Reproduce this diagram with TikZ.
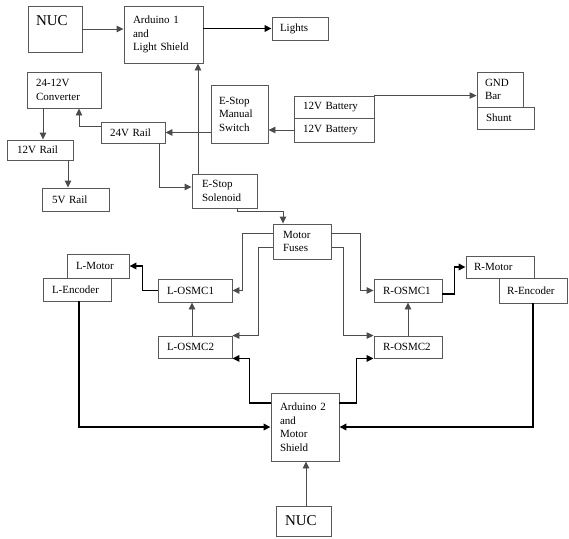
\documentclass[tikz,border=0pt]{standalone}
\usepackage{fontspec}
\setmainfont{Liberation Serif}
\usetikzlibrary{arrows.meta,calc}
\begin{document}
\begin{tikzpicture}[x=1pt,y=-1pt,
  bx/.style={draw=black!65, line width=0.9pt, rectangle, inner ysep=0pt, align=left,
    font=\fontsize{11}{13.5}\selectfont},
  big/.style={font=\fontsize{15}{17}\selectfont},
  thin/.style={draw=black!70, line width=0.9pt, -{Triangle[length=7pt,width=6.5pt]}},
  thick/.style={draw=black, line width=1.7pt, -{Triangle[length=7pt,width=6.5pt]}}
]
\useasboundingbox (0,0) rectangle (569,538);

% boxes
\node[bx,big,minimum width=54pt,minimum height=46pt,inner xsep=8pt,text width=38pt,text depth=16pt] (nuc1) at (55,29) {NUC};
\node[bx,minimum width=79pt,minimum height=57pt,inner xsep=9pt,text width=61pt] (ard1) at (163.5,34.5) {Arduino 1\\and\\Light Shield};
\node[bx,minimum width=56pt,minimum height=23pt,inner xsep=8pt,text width=40pt] (lights) at (300,28.5) {Lights};
\node[bx,minimum width=74pt,minimum height=36pt,inner xsep=9pt,text width=56pt] (conv) at (64,90) {24-12V\\Converter};
\node[bx,minimum width=64pt,minimum height=21pt,inner xsep=9pt,text width=46pt] (r24) at (133,132.5) {24V Rail};
\node[bx,minimum width=66pt,minimum height=20pt,inner xsep=10pt,text width=46pt] (r12) at (40,150) {12V Rail};
\node[bx,minimum width=67pt,minimum height=23pt,inner xsep=10pt,text width=47pt] (r5) at (75.5,199.5) {5V Rail};
\node[bx,minimum width=57pt,minimum height=58pt,inner xsep=8pt,text width=41pt] (sw) at (239.5,114) {E-Stop\\Manual\\Switch};
\node[bx,minimum width=80pt,minimum height=22pt,inner xsep=9pt,text width=62pt] (bat1) at (334,107) {12V Battery};
\node[bx,minimum width=80pt,minimum height=24pt,inner xsep=9pt,text width=62pt] (bat2) at (334,130) {12V Battery};
\node[bx,minimum width=46pt,minimum height=35pt,inner xsep=8pt,text width=30pt] (gnd) at (500,89.5) {GND\\Bar};
\node[bx,minimum width=57pt,minimum height=22pt,inner xsep=9pt,text width=39pt] (shunt) at (505.5,118) {Shunt};
\node[bx,minimum width=65pt,minimum height=34pt,inner xsep=10pt,text width=45pt] (sol) at (224.5,191) {E-Stop\\Solenoid};
\node[bx,minimum width=58pt,minimum height=35pt,inner xsep=10pt,text width=38pt] (fuses) at (302,241.5) {Motor\\Fuses};
\node[bx,minimum width=62pt,minimum height=24pt,inner xsep=9pt,text width=44pt] (lmot) at (98,266) {L-Motor};
\node[bx,minimum width=68pt,minimum height=23pt,inner xsep=9pt,text width=50pt] (lenc) at (77,289.5) {L-Encoder};
\node[bx,minimum width=74pt,minimum height=23pt,inner xsep=9pt,text width=56pt] (losmc1) at (195,290.5) {L-OSMC1};
\node[bx,minimum width=74pt,minimum height=22pt,inner xsep=9pt,text width=56pt] (losmc2) at (195,347) {L-OSMC2};
\node[bx,minimum width=68pt,minimum height=23pt,inner xsep=9pt,text width=50pt] (rosmc1) at (408,290.5) {R-OSMC1};
\node[bx,minimum width=68pt,minimum height=22pt,inner xsep=9pt,text width=50pt] (rosmc2) at (408,347) {R-OSMC2};
\node[bx,minimum width=68pt,minimum height=22pt,inner xsep=8pt,text width=52pt] (rmot) at (500,267) {R-Motor};
\node[bx,minimum width=68pt,minimum height=25pt,inner xsep=8pt,text width=52pt] (renc) at (533,290.5) {R-Encoder};
\node[bx,minimum width=68pt,minimum height=68pt,inner xsep=9pt,text width=50pt] (ard2) at (305,427) {Arduino 2\\and\\Motor\\Shield};
\node[bx,big,minimum width=55pt,minimum height=30pt,inner xsep=9pt,text width=37pt] (nuc2) at (303.5,521) {NUC};

% connectors
\draw[thin] (nuc1.east) -- (nuc1.east -| ard1.west);
\draw[thick] (ard1.east |- lights.west) -- (lights.west);
\draw[thin] ([yshift=6.5pt]r24.west) -| ([xshift=15pt]conv.south);
\draw[thin] ([xshift=-21pt]conv.south) -- ([xshift=-21pt]conv.south |- r12.north);
\draw[thin] ([xshift=28pt]r12.south) -- ([xshift=28pt]r12.south |- r5.north);
\draw[thin] (sw.west |- r24.east) -- (r24.east);
\draw[thin] (bat2.west) -- (bat2.west -| sw.east);
\draw[thin] (bat1.north east) -- (bat1.north east -| gnd.west);
\draw[thin] ([xshift=26pt]r24.south) |- ([yshift=4pt]sol.west);
\draw[thin] ([xshift=-26.5pt]sol.north) -- ([xshift=-26.5pt]sol.north |- ard1.south);
\draw[thin] ([xshift=12.5pt]sol.south) -- ++(0,3) -| ([xshift=-19pt]fuses.north);
\draw[thin] ([yshift=8.5pt]fuses.west) -- ++(-30,0) |- (losmc1.east);
\draw[thin] ([yshift=-5.5pt]fuses.west) -- ++(-14,0) |- (losmc2.north east);
\draw[thin] ([yshift=8.5pt]fuses.east) -- ++(29,0) |- (rosmc1.west);
\draw[thin] ([yshift=-5.5pt]fuses.east) -- ++(12,0) |- (rosmc2.north west);
\draw[thin] ([xshift=-3pt]losmc2.north) -- ([xshift=-3pt]losmc2.north |- losmc1.south);
\draw[thin] (rosmc2.north) -- (rosmc1.south);
\draw[thick] (losmc1.west) -- ++(-15,0) |- (lmot.east);
\draw[thick] ([yshift=-3.5pt]rosmc1.east) -- ++(12,0) |- (rmot.west);
\draw[thick] ([xshift=2pt]lenc.south) |- (ard2.west);
\draw[thick] (renc.south) |- (ard2.east);
\draw[thick] ([yshift=24pt]ard2.west) -- ++(-21,0) |- (losmc2.south east);
\draw[thick] ([yshift=24pt]ard2.east) -- ++(17,0) |- (rosmc2.south west);
\draw[thin] ([xshift=2.5pt]nuc2.north) -- ([xshift=2.5pt]nuc2.north |- ard2.south);
\end{tikzpicture}
\end{document}
